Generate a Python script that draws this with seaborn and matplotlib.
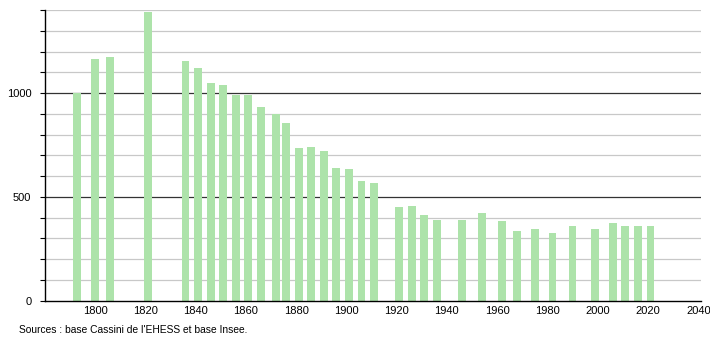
import matplotlib
matplotlib.use("Agg")
import matplotlib.pyplot as plt
import seaborn as sns
import pandas as pd
from matplotlib.ticker import MultipleLocator

years = [1793, 1800, 1806, 1821, 1836, 1841, 1846, 1851, 1856, 1861, 1866, 1872,
         1876, 1881, 1886, 1891, 1896, 1901, 1906, 1911, 1921, 1926, 1931, 1936,
         1946, 1954, 1962, 1968, 1975, 1982, 1990, 1999, 2006, 2011, 2016, 2021]
population = [1000, 1166, 1174, 1390, 1152, 1123, 1050, 1037, 989, 992, 934, 900,
              857, 736, 741, 720, 640, 635, 578, 567, 451, 456, 411, 387,
              390, 422, 384, 334, 345, 327, 359, 345, 374, 361, 361, 360]
x_ticks = [1800, 1820, 1840, 1860, 1880, 1900, 1920, 1940, 1960, 1980, 2000, 2020, 2040]
y_ticks = [0, 500, 1000]
source_text = "Sources : base Cassini de l'EHESS et base Insee."

df = pd.DataFrame({"year": years, "pop": population})

sns.set_style("white")
plt.rcParams["font.family"] = ["Liberation Sans", "DejaVu Sans"]

fig = plt.figure(figsize=(7.10, 3.40), dpi=100)
ax = fig.add_axes([0.063, 0.1156, 0.924, 0.855])

# grid lines
for v in range(100, 1401, 100):
    if v in (500, 1000):
        ax.axhline(v, color="#333333", lw=0.9, zorder=0)
    else:
        ax.axhline(v, color="#c8c8c8", lw=0.9, zorder=0)

sns.barplot(data=df, x="year", y="pop", native_scale=True, width=0.78,
            color="#ade3aa", saturation=1, ax=ax, zorder=2, errorbar=None,
            linewidth=0, edgecolor="#ade3aa")

ax.set_xlim(1780, 2041)
ax.set_ylim(0, 1400)
ax.set_xticks(x_ticks)
ax.set_xticklabels([str(t) for t in x_ticks])
ax.set_yticks(y_ticks)
ax.set_yticklabels([str(t) for t in y_ticks])
ax.yaxis.set_minor_locator(MultipleLocator(100))
ax.set_xlabel("")
ax.set_ylabel("")

for s in ("top", "right"):
    ax.spines[s].set_visible(False)
for s in ("left", "bottom"):
    ax.spines[s].set_color("black")
    ax.spines[s].set_linewidth(1.0)

ax.tick_params(axis="x", length=0, labelsize=8, pad=4, colors="black")
ax.tick_params(axis="y", which="both", length=3.6, width=0.8, direction="out",
               left=True, labelsize=8, pad=6, colors="black")

fig.text(0.027, 0.022, source_text, fontsize=7.4, color="black", ha="left", va="baseline")

fig.savefig("out.png", dpi=100)
